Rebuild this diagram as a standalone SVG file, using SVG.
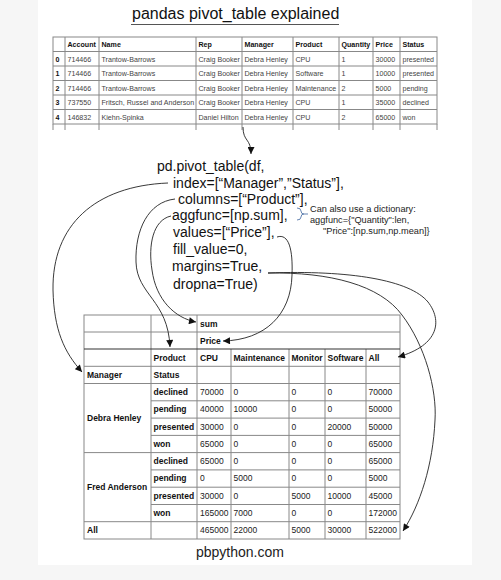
<svg xmlns="http://www.w3.org/2000/svg" width="501" height="580" viewBox="0 0 501 580">
<style>
text{font-family:"Liberation Sans",Arial,sans-serif;}
.title{font-size:16px;fill:#111;}
.tt{font-size:7.1px;fill:#444;}
.tb{font-size:7.1px;fill:#111;font-weight:bold;}
.code{font-size:14px;fill:#111;}
.note{font-size:9.2px;fill:#222;}
.bt{font-size:8.5px;fill:#222;}
.bb{font-size:8.5px;fill:#111;font-weight:bold;}
.grid{stroke:#888;stroke-width:1;fill:none;}
.dark{stroke:#333;stroke-width:1.2;fill:none;}
.conn{stroke:#222;stroke-width:0.9;fill:none;}
</style>
<defs>
<marker id="ah" viewBox="0 0 10 10" refX="10" refY="5" markerWidth="8" markerHeight="7" markerUnits="userSpaceOnUse" orient="auto">
<path d="M0,0 L10,5 L0,10 z" fill="#111"/>
</marker>
</defs>
<rect x="0" y="0" width="501" height="580" fill="#f6f6f6"/>
<rect x="38" y="0" width="434" height="565" fill="#fff"/>

<g id="title">
<text class="title" x="132" y="18.5">pandas pivot_table explained</text>
<line x1="131" y1="24.5" x2="339" y2="24.5" stroke="#555" stroke-width="1"/>
</g>

<g id="source-table">
<rect class="grid" x="53" y="37" width="384" height="87"/>
<path class="grid" d="M53,51.5H437 M53,66H437 M53,80.5H437 M53,95H437 M53,109.5H437 M65,37V130 M99,37V130 M196,37V130 M242,37V130 M293,37V130 M339,37V130 M373,37V130 M400,37V130 M53,124V130 M437,124V130"/>
<text class="tb" x="67.5" y="47">Account</text><text class="tb" x="101.5" y="47">Name</text><text class="tb" x="198.5" y="47">Rep</text><text class="tb" x="244.5" y="47">Manager</text><text class="tb" x="295.5" y="47">Product</text><text class="tb" x="341.5" y="47">Quantity</text><text class="tb" x="375.5" y="47">Price</text><text class="tb" x="402.5" y="47">Status</text>
<text class="tb" x="55.5" y="61.5">0</text><text class="tt" x="67.5" y="61.5">714466</text><text class="tt" x="101.5" y="61.5">Trantow-Barrows</text><text class="tt" x="198.5" y="61.5">Craig Booker</text><text class="tt" x="244.5" y="61.5">Debra Henley</text><text class="tt" x="295.5" y="61.5">CPU</text><text class="tt" x="341.5" y="61.5">1</text><text class="tt" x="375.5" y="61.5">30000</text><text class="tt" x="402.5" y="61.5">presented</text>
<text class="tb" x="55.5" y="76">1</text><text class="tt" x="67.5" y="76">714466</text><text class="tt" x="101.5" y="76">Trantow-Barrows</text><text class="tt" x="198.5" y="76">Craig Booker</text><text class="tt" x="244.5" y="76">Debra Henley</text><text class="tt" x="295.5" y="76">Software</text><text class="tt" x="341.5" y="76">1</text><text class="tt" x="375.5" y="76">10000</text><text class="tt" x="402.5" y="76">presented</text>
<text class="tb" x="55.5" y="90.5">2</text><text class="tt" x="67.5" y="90.5">714466</text><text class="tt" x="101.5" y="90.5">Trantow-Barrows</text><text class="tt" x="198.5" y="90.5">Craig Booker</text><text class="tt" x="244.5" y="90.5">Debra Henley</text><text class="tt" x="295.5" y="90.5">Maintenance</text><text class="tt" x="341.5" y="90.5">2</text><text class="tt" x="375.5" y="90.5">5000</text><text class="tt" x="402.5" y="90.5">pending</text>
<text class="tb" x="55.5" y="105">3</text><text class="tt" x="67.5" y="105">737550</text><text class="tt" x="101.5" y="105">Fritsch, Russel and Anderson</text><text class="tt" x="198.5" y="105">Craig Booker</text><text class="tt" x="244.5" y="105">Debra Henley</text><text class="tt" x="295.5" y="105">CPU</text><text class="tt" x="341.5" y="105">1</text><text class="tt" x="375.5" y="105">35000</text><text class="tt" x="402.5" y="105">declined</text>
<text class="tb" x="55.5" y="119.5">4</text><text class="tt" x="67.5" y="119.5">146832</text><text class="tt" x="101.5" y="119.5">Kiehn-Spinka</text><text class="tt" x="198.5" y="119.5">Daniel Hilton</text><text class="tt" x="244.5" y="119.5">Debra Henley</text><text class="tt" x="295.5" y="119.5">CPU</text><text class="tt" x="341.5" y="119.5">2</text><text class="tt" x="375.5" y="119.5">65000</text><text class="tt" x="402.5" y="119.5">won</text>
</g>

<g id="pivot-call">
<text class="code" x="157" y="171">pd.pivot_table(df,</text>
<text class="code" x="173" y="188">index=[“Manager”,”Status”],</text>
<text class="code" x="178" y="204">columns=[“Product”],</text>
<text class="code" x="172" y="220">aggfunc=[np.sum],</text>
<text class="code" x="173" y="237">values=[“Price”],</text>
<text class="code" x="173" y="254">fill_value=0,</text>
<text class="code" x="172" y="271">margins=True,</text>
<text class="code" x="173" y="289">dropna=True)</text>
</g>

<g id="aggfunc-note">
<path d="M297,208 Q301,208 301,211 Q301,214 304,214 L308,214 M304,214 Q301,214 301,217 Q301,220 297,220" fill="none" stroke="#5577aa" stroke-width="0.9"/>
<text class="note" x="310" y="212">Can also use a dictionary:</text>
<text class="note" x="310" y="223">aggfunc={"Quantity":len,</text>
<text class="note" x="323" y="234">"Price":[np.sum,np.mean]}</text>
</g>

<g id="result-table">
<rect class="grid" x="84" y="315" width="316" height="224"/>
<path class="grid" d="M84,332H400 M84,366.3H400 M84,383.5H400 M151,400.8H400 M151,418.1H400 M151,435.4H400 M84,452.6H400 M151,469.9H400 M151,487.2H400 M151,504.5H400 M84,521.7H400 M151,315V539 M197,315V539 M231,349V539 M289,349V539 M325,349V539 M366,349V539"/>
<line class="dark" x1="84" y1="349" x2="400" y2="349"/>
<text class="bb" x="200" y="326.5">sum</text>
<text class="bb" x="200" y="343.5">Price</text>
<text class="bb" x="153.5" y="361">Product</text><text class="bb" x="200" y="361">CPU</text><text class="bb" x="233.5" y="361">Maintenance</text><text class="bb" x="291.5" y="361">Monitor</text><text class="bb" x="327.5" y="361">Software</text><text class="bb" x="368.5" y="361">All</text>
<text class="bb" x="87" y="378">Manager</text><text class="bb" x="153.5" y="378">Status</text>
<text class="bb" x="87" y="421">Debra Henley</text>
<text class="bb" x="87" y="490">Fred Anderson</text>
<text class="bb" x="87" y="533">All</text>
<text class="bb" x="153.5" y="395">declined</text><text class="bt" x="200" y="395">70000</text><text class="bt" x="233.5" y="395">0</text><text class="bt" x="291.5" y="395">0</text><text class="bt" x="327.5" y="395">0</text><text class="bt" x="368.5" y="395">70000</text>
<text class="bb" x="153.5" y="412.3">pending</text><text class="bt" x="200" y="412.3">40000</text><text class="bt" x="233.5" y="412.3">10000</text><text class="bt" x="291.5" y="412.3">0</text><text class="bt" x="327.5" y="412.3">0</text><text class="bt" x="368.5" y="412.3">50000</text>
<text class="bb" x="153.5" y="429.6">presented</text><text class="bt" x="200" y="429.6">30000</text><text class="bt" x="233.5" y="429.6">0</text><text class="bt" x="291.5" y="429.6">0</text><text class="bt" x="327.5" y="429.6">20000</text><text class="bt" x="368.5" y="429.6">50000</text>
<text class="bb" x="153.5" y="446.9">won</text><text class="bt" x="200" y="446.9">65000</text><text class="bt" x="233.5" y="446.9">0</text><text class="bt" x="291.5" y="446.9">0</text><text class="bt" x="327.5" y="446.9">0</text><text class="bt" x="368.5" y="446.9">65000</text>
<text class="bb" x="153.5" y="464.1">declined</text><text class="bt" x="200" y="464.1">65000</text><text class="bt" x="233.5" y="464.1">0</text><text class="bt" x="291.5" y="464.1">0</text><text class="bt" x="327.5" y="464.1">0</text><text class="bt" x="368.5" y="464.1">65000</text>
<text class="bb" x="153.5" y="481.4">pending</text><text class="bt" x="200" y="481.4">0</text><text class="bt" x="233.5" y="481.4">5000</text><text class="bt" x="291.5" y="481.4">0</text><text class="bt" x="327.5" y="481.4">0</text><text class="bt" x="368.5" y="481.4">5000</text>
<text class="bb" x="153.5" y="498.7">presented</text><text class="bt" x="200" y="498.7">30000</text><text class="bt" x="233.5" y="498.7">0</text><text class="bt" x="291.5" y="498.7">5000</text><text class="bt" x="327.5" y="498.7">10000</text><text class="bt" x="368.5" y="498.7">45000</text>
<text class="bb" x="153.5" y="516">won</text><text class="bt" x="200" y="516">165000</text><text class="bt" x="233.5" y="516">7000</text><text class="bt" x="291.5" y="516">0</text><text class="bt" x="327.5" y="516">0</text><text class="bt" x="368.5" y="516">172000</text>
<text class="bt" x="200" y="533.3">465000</text><text class="bt" x="233.5" y="533.3">22000</text><text class="bt" x="291.5" y="533.3">5000</text><text class="bt" x="327.5" y="533.3">30000</text><text class="bt" x="368.5" y="533.3">522000</text>
</g>

<g id="credit">
<text x="240" y="557" font-size="14" fill="#222" text-anchor="middle" style="font-family:'Liberation Sans',Arial,sans-serif">pbpython.com</text>
</g>

<g id="connectors">
<path class="conn" d="M243,127 C243,142 251,138 251,154" marker-end="url(#ah)"/>
<path class="conn" d="M168,183 C95,186 52,225 53,290 C54,330 64,352 82,372" marker-end="url(#ah)"/>
<path class="conn" d="M175,199 C148,202 135,230 136,262 C137,295 168,300 170,347" marker-end="url(#ah)"/>
<path class="conn" d="M171,216 C153,220 148,245 152,270 C156,300 175,318 196,322" marker-end="url(#ah)"/>
<path class="conn" d="M277,237 C289,233 293,250 292,275 C291,315 265,340 223,341" marker-end="url(#ah)"/>
<path class="conn" d="M268,273 C350,270 410,280 428,302 C442,320 440,345 398,357" marker-end="url(#ah)"/>
<path class="conn" d="M268,273 C330,272 380,285 402,315 C425,345 437,390 435,420 C433,465 420,505 403,531" marker-end="url(#ah)"/>
</g>
</svg>
